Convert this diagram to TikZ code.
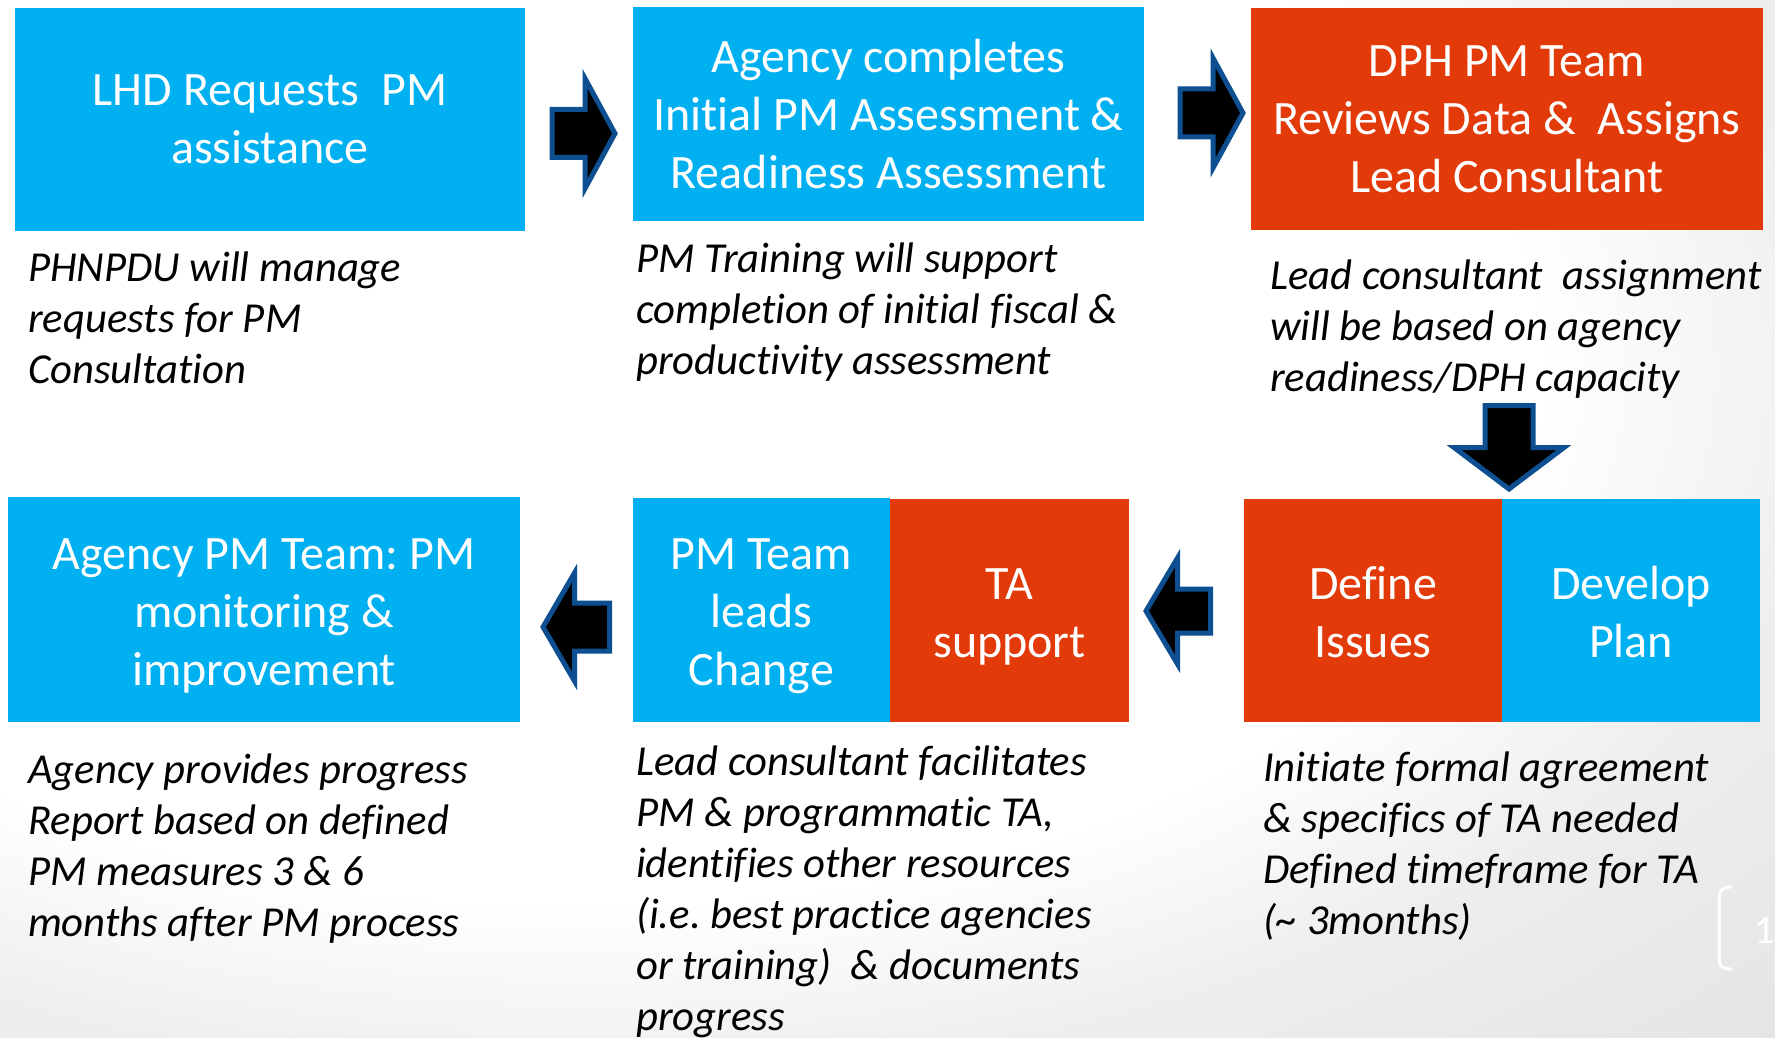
\documentclass[tikz,border=0pt]{standalone}
\usepackage{fontspec}
\setmainfont{Carlito}[Ligatures={NoCommon}]
\usetikzlibrary{calc}
\definecolor{boxblue}{HTML}{00B0F0}
\definecolor{boxred}{HTML}{E33A09}
\definecolor{arrowrim}{HTML}{0D4F91}
\pgfdeclareradialshading{bgshade}{\pgfpoint{0bp}{0bp}}{color(0bp)=(white); color(20bp)=(white); color(27bp)=(black!7); color(35bp)=(black!10); color(50bp)=(black!10)}
\tikzset{
  stepbox/.style={inner sep=0pt, align=center, text=white, font=\fontsize{48}{58}\selectfont},
  bluebox/.style={stepbox, fill=boxblue},
  redbox/.style={stepbox, fill=boxred},
  note/.style={inner sep=0pt, align=left, anchor=north west, text=black, font=\fontsize{42.7}{51}\selectfont\itshape},
  blockarrow/.style={fill=black, draw=arrowrim, line width=5pt, line join=miter},
}
\frenchspacing
\newcommand{\firstline}{\rule{0pt}{40pt}}
\newcommand{\boxtop}{\rule{0pt}{50pt}}
\newcommand{\boxbot}{\rule[-15pt]{0pt}{15pt}}
% tip, rotation, length, head length, head half width, shaft half width
\newcommand{\blockarrowat}[6]{%
  \draw[blockarrow, shift={#1}, rotate=#2] (0,0) -- (-#4,-#5) -- (-#4,-#6) -- (-#3,-#6) -- (-#3,#6) -- (-#4,#6) -- (-#4,#5) -- cycle;}
\begin{document}
\begin{tikzpicture}[x=1pt,y=-1pt]
\useasboundingbox (0,0) rectangle (1775,1038);
\clip (0,0) rectangle (1775,1038);
\fill[shading=bgshade] (-600,-300) rectangle (1775,1038);

% top row
\node[bluebox, minimum width=510pt, minimum height=223pt] (lhd) at (270,119.5) {LHD Requests\ \ PM\\assistance};
\node[bluebox, minimum width=511pt, minimum height=214pt] (agency) at (888.5,114) {Agency completes\\Initial PM Assessment \&\\Readiness Assessment};
\node[redbox, minimum width=512pt, minimum height=222pt] (dph) at (1507,119) {DPH PM Team\\Reviews Data \&\ \ Assigns\\Lead Consultant};

% bottom row
\node[bluebox, minimum width=512pt, minimum height=225pt] (monitor) at (264,609.5) {\boxtop Agency PM Team: PM\\monitoring \&\\improvement\boxbot};
\node[bluebox, minimum width=257pt, minimum height=224pt] (leads) at (761.5,610) {\boxtop PM Team\\leads\\Change\boxbot};
\node[redbox, minimum width=239pt, minimum height=223pt] (ta) at (1009.5,610.5) {\boxtop TA\\support\boxbot};
\node[redbox, minimum width=258pt, minimum height=223pt] (define) at (1373,610.5) {\boxtop Define\\Issues\boxbot};
\node[bluebox, minimum width=258pt, minimum height=223pt] (plan) at (1631,610.5) {\boxtop Develop\\Plan\boxbot};

% block arrows
\blockarrowat{(615,133.5)}{0}{63}{30}{55}{24}
\blockarrowat{(1243,113)}{0}{63}{30}{55}{24}
\blockarrowat{(1509,489)}{-90}{83.5}{41.5}{55}{24}
\blockarrowat{(1146,611)}{180}{64.5}{31.5}{53}{22}
\blockarrowat{(543,627)}{180}{66.5}{31.5}{54}{24}

% notes
\node[note] (n1) at (28,241) {\firstline PHNPDU will manage\\requests for PM\\Consultation};
\node[note] (n2) at (636,232) {\firstline PM Training will support\\completion of initial fiscal \&\\productivity assessment};
\node[note] (n3) at (1270,249) {\firstline Lead consultant\ \ assignment\\will be based on agency\\readiness/DPH capacity};
\node[note] (n4) at (28,743.5) {\firstline Agency provides progress\\Report based on defined\\PM measures 3 \& 6\\months after PM process};
\node[note] (n5) at (636,735.5) {\firstline Lead consultant facilitates\\PM \& programmatic TA,\\identifies other resources\\(i.e. best practice agencies\\or training)\ \ \& documents\\progress};
\node[note] (n6) at (1263,741) {\firstline Initiate formal agreement\\\& specifics of TA needed\\Defined timeframe for TA\\(\textasciitilde{} 3months)};

% slide number
\draw[white, line width=3pt, line cap=round] (1731,887) .. controls (1721,887) and (1719,891) .. (1719,901) -- (1719,956) .. controls (1719,966) and (1721,969) .. (1731,969);
\node[text=white, inner sep=0pt, anchor=base west, font=\fontsize{40}{48}\selectfont] (slideno) at (1754,943) {1};
\end{tikzpicture}
\end{document}
